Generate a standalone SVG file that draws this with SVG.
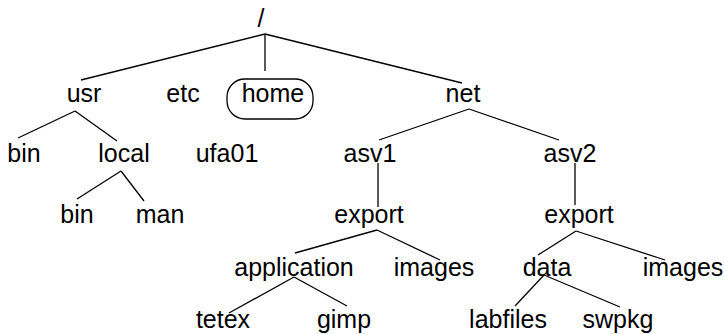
<svg xmlns="http://www.w3.org/2000/svg" width="724" height="334" viewBox="0 0 724 334">
<style>
text{font-family:"Liberation Sans",Arial,sans-serif;font-size:25px;fill:#000;text-anchor:middle}
.c line{stroke:#000;stroke-width:1.3;fill:none}
.oval{fill:none;stroke:#000;stroke-width:1.3}
</style>
<rect width="724" height="334" fill="#fff"/>
<g class="c" id="connectors">
<line x1="265" y1="34" x2="81" y2="80"/>
<line x1="265" y1="34" x2="265" y2="71"/>
<line x1="265" y1="34" x2="462" y2="83"/>
<line x1="75" y1="111" x2="18" y2="138"/>
<line x1="75" y1="111" x2="117" y2="141"/>
<line x1="469" y1="109" x2="379" y2="140"/>
<line x1="469" y1="109" x2="559" y2="140"/>
<line x1="121" y1="171" x2="77" y2="199"/>
<line x1="121" y1="171" x2="144" y2="201"/>
<line x1="378" y1="163" x2="378" y2="207"/>
<line x1="575" y1="163" x2="575" y2="205"/>
<line x1="377" y1="230" x2="295" y2="253"/>
<line x1="377" y1="230" x2="440" y2="260"/>
<line x1="576" y1="231" x2="538" y2="255"/>
<line x1="576" y1="231" x2="665" y2="260"/>
<line x1="294" y1="277" x2="229" y2="313"/>
<line x1="294" y1="277" x2="347" y2="306"/>
<line x1="544" y1="275" x2="515" y2="306"/>
<line x1="544" y1="275" x2="620" y2="307"/>
</g>
<g id="root"><text x="261" y="27">/</text></g>
<g id="usr"><text x="84" y="102">usr</text></g>
<g id="etc"><text x="183" y="102">etc</text></g>
<g id="home"><rect class="oval" x="227" y="79" width="86" height="40" rx="18" ry="18"/><text x="273" y="102">home</text></g>
<g id="net"><text x="463" y="102">net</text></g>
<g id="usr-bin"><text x="24" y="162">bin</text></g>
<g id="local"><text x="124" y="162">local</text></g>
<g id="ufa01"><text x="227" y="162">ufa01</text></g>
<g id="asv1"><text x="370" y="162">asv1</text></g>
<g id="asv2"><text x="570" y="162">asv2</text></g>
<g id="local-bin"><text x="77" y="223">bin</text></g>
<g id="man"><text x="160" y="223">man</text></g>
<g id="export1"><text x="369" y="223">export</text></g>
<g id="export2"><text x="579" y="223">export</text></g>
<g id="application"><text x="294" y="276">application</text></g>
<g id="images1"><text x="434" y="276">images</text></g>
<g id="data"><text x="547" y="276">data</text></g>
<g id="images2"><text x="683" y="276">images</text></g>
<g id="tetex"><text x="223" y="328">tetex</text></g>
<g id="gimp"><text x="344" y="328">gimp</text></g>
<g id="labfiles"><text x="508" y="328">labfiles</text></g>
<g id="swpkg"><text x="618" y="328">swpkg</text></g>
</svg>
